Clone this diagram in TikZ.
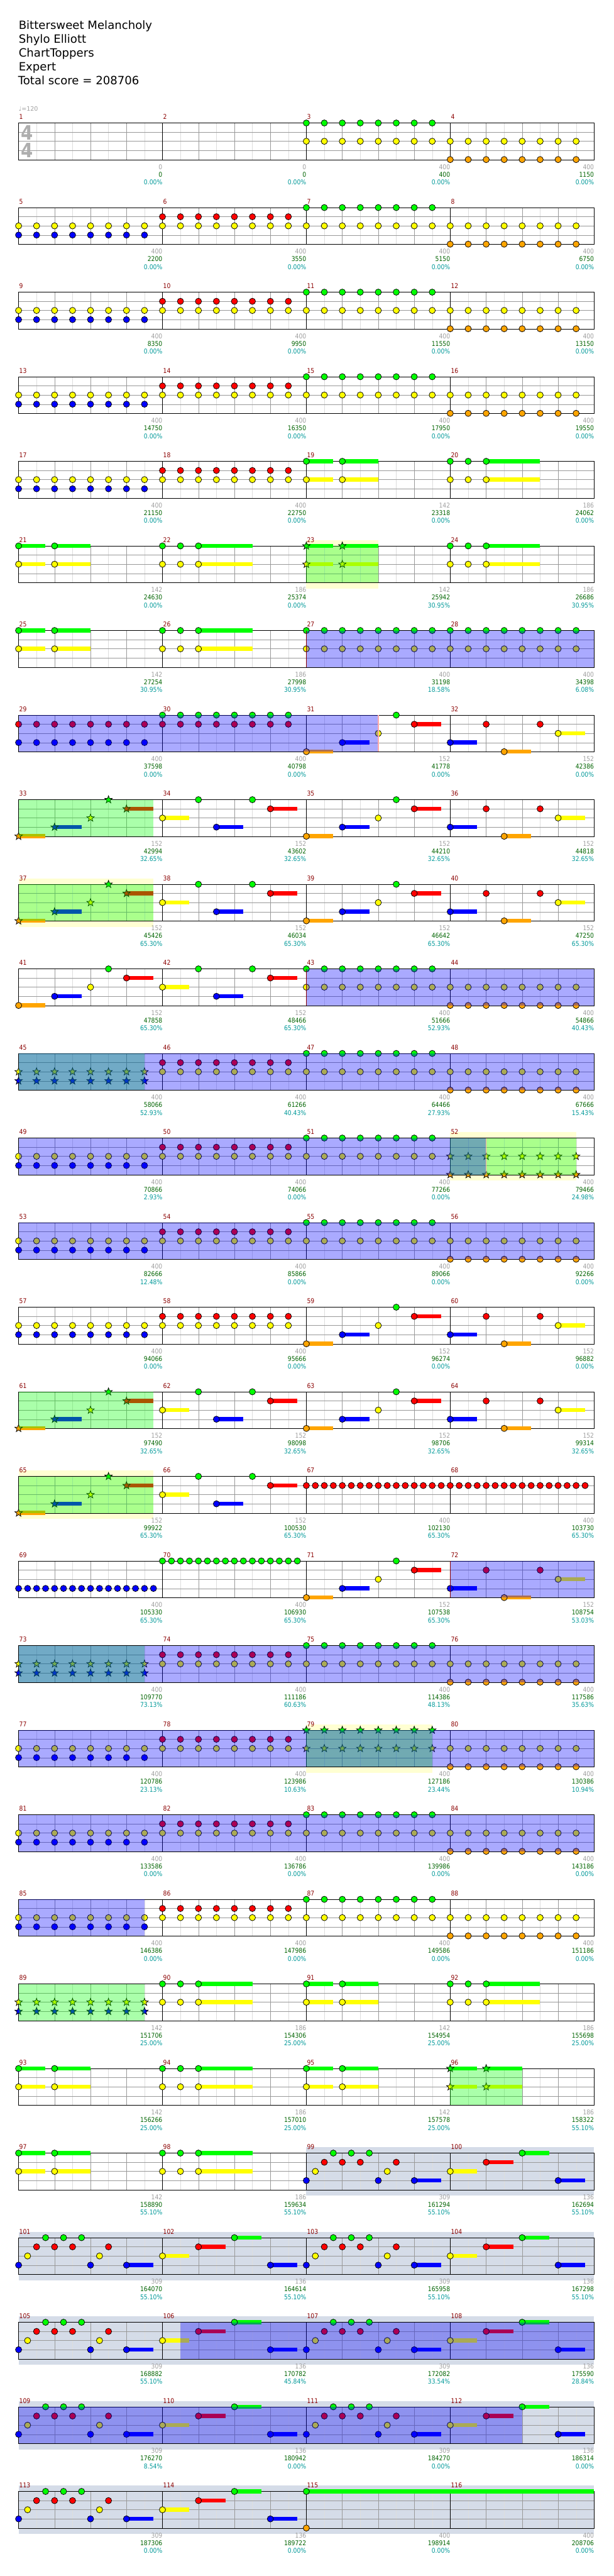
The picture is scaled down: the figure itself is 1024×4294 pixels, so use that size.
\documentclass[tikz,border=0pt]{standalone}
\usepackage{fontspec}
\setmainfont{DejaVu Sans}
\newfontfamily\numfont{DejaVu Sans}[FakeStretch=0.88]
\usepackage{tikz}
\usetikzlibrary{shapes.geometric}
\definecolor{lane0}{HTML}{00FF00}
\definecolor{lane1}{HTML}{FF0000}
\definecolor{lane2}{HTML}{FFFF00}
\definecolor{lane3}{HTML}{0000FF}
\definecolor{lane4}{HTML}{FFA500}
\definecolor{gridbeat}{HTML}{999999}
\definecolor{grideighth}{HTML}{DDDDDD}
\definecolor{barnum}{HTML}{8B0000}
\definecolor{statgray}{HTML}{A0A0A0}
\definecolor{statgreen}{HTML}{006400}
\definecolor{statcyan}{HTML}{009999}
\definecolor{spband}{HTML}{FFFFD2}
\definecolor{soloband}{HTML}{D5DCE8}
\definecolor{actend}{HTML}{FFAAAA}

% measure -> left x (\mx) and staff top y (\my)
\newcommand{\meas}[1]{%
  \pgfmathtruncatemacro\mrow{(#1-1)/4}%
  \pgfmathtruncatemacro\mcol{#1-1-4*\mrow}%
  \pgfmathsetmacro\mx{31+240*\mcol}%
  \pgfmathsetmacro\my{205+141*\mrow}}
\newcommand{\nts}[3]{\meas{#1}%
  \foreach \b in {#3} {\draw[note, fill=lane#2] (\mx+60*\b, \my+15.25*#2) circle[radius=5.2pt];}}
\newcommand{\sus}[4]{\meas{#1}%
  \fill[lane#2] (\mx+60*#3, \my+15.25*#2-3.4) rectangle (\mx+60*#3+60*#4, \my+15.25*#2+3.4);
  \draw[note, fill=lane#2] (\mx+60*#3, \my+15.25*#2) circle[radius=5.2pt];}
\newcommand{\sts}[3]{\meas{#1}%
  \foreach \b in {#3} {\pic at (\mx+60*\b, \my+15.25*#2) {starnote=lane#2};}}
\newcommand{\ssus}[4]{\meas{#1}%
  \fill[lane#2] (\mx+60*#3, \my+15.25*#2-3.4) rectangle (\mx+60*#3+60*#4, \my+15.25*#2+3.4);
  \pic at (\mx+60*#3, \my+15.25*#2) {starnote=lane#2};}
\newcommand{\ovl}[4]{\meas{#2}%
  \fill[#1, fill opacity=0.333] (\mx+60*#3, \my) rectangle (\mx+60*#4, \my+61);}
\newcommand{\band}[4]{\meas{#2}%
  \fill[#1] (\mx+60*#3, \my-10) rectangle (\mx+60*#4, \my+71);}
\newcommand{\actmark}[3]{\meas{#2}%
  \draw[#1, line width=1.4pt] (\mx+60*#3, \my) -- (\mx+60*#3, \my+61);}

% recurring measures
\newcommand{\two}[3]{\nts{#1}{#2}{0,0.5,...,3.5}\nts{#1}{#3}{0,0.5,...,3.5}}
\newcommand{\twostar}[3]{\sts{#1}{#2}{0,0.5,...,3.5}\sts{#1}{#3}{0,0.5,...,3.5}}
\newcommand{\riffA}[1]{\ssus{#1}{4}{0}{0.75}\ssus{#1}{3}{1}{0.75}\sts{#1}{2}{2}\sts{#1}{0}{2.5}\ssus{#1}{1}{3}{0.75}}
\newcommand{\riffB}[1]{\sus{#1}{2}{0}{0.75}\nts{#1}{0}{1,2.5}\sus{#1}{3}{1.5}{0.75}\sus{#1}{1}{3}{0.75}}
\newcommand{\riffC}[1]{\sus{#1}{4}{0}{0.75}\sus{#1}{3}{1}{0.75}\nts{#1}{2}{2}\nts{#1}{0}{2.5}\sus{#1}{1}{3}{0.75}}
\newcommand{\riffD}[1]{\sus{#1}{3}{0}{0.75}\nts{#1}{1}{1,2.5}\sus{#1}{4}{1.5}{0.75}\sus{#1}{2}{3}{0.75}}
\newcommand{\chordE}[1]{\sus{#1}{0}{0}{0.75}\sus{#1}{2}{0}{0.75}\sus{#1}{0}{1}{1}\sus{#1}{2}{1}{1}}
\newcommand{\chordF}[1]{\nts{#1}{0}{0,0.5}\nts{#1}{2}{0,0.5}\sus{#1}{0}{1}{1.5}\sus{#1}{2}{1}{1.5}}
\newcommand{\starE}[1]{\ssus{#1}{0}{0}{0.75}\ssus{#1}{2}{0}{0.75}\ssus{#1}{0}{1}{1}\ssus{#1}{2}{1}{1}}

\begin{document}
\begin{tikzpicture}[x=1pt, y=-1pt,
    note/.style={draw=black, line width=0.8pt},
    pics/starnote/.style={code={\draw[note, fill=#1] (90:6.6pt) -- (126:2.7pt) -- (162:6.6pt) -- (198:2.7pt) -- (234:6.6pt) -- (270:2.7pt) -- (306:6.6pt) -- (342:2.7pt) -- (18:6.6pt) -- (54:2.7pt) -- cycle;}},
    head/.style={anchor=base west, inner sep=0, font=\fontsize{19}{19}\selectfont},
    barno/.style={anchor=base west, inner sep=0, text=barnum, font=\numfont\fontsize{11}{11}\selectfont},
    stgray/.style={anchor=base east, inner sep=0, text=statgray, font=\numfont\fontsize{11}{11}\selectfont},
    stgreen/.style={anchor=base east, inner sep=0, text=statgreen, font=\numfont\fontsize{11}{11}\selectfont},
    stcyan/.style={anchor=base east, inner sep=0, text=statcyan, font=\numfont\fontsize{11}{11}\selectfont},
  ]
  \useasboundingbox[fill=white] (0,0) rectangle (1024,4294);

  \node[head] (song) at (31,49) {Bittersweet Melancholy};
  \node[head] (artist) at (31,72) {Shylo Elliott};
  \node[head] (pack) at (31,95) {ChartToppers};
  \node[head] (level) at (31,118) {Expert};
  \node[head] (total) at (30,141) {Total score = 208706};
  \node[anchor=base west, inner sep=0, text=statgray, font=\fontsize{10}{10}\selectfont] (tempo) at (31,185) {♩=120};

  % bands under the staves
  \band{spband}{23}{0}{2}
  \band{spband}{37}{0}{3.75}
  \band{spband}{52}{0}{3.5}
  \band{spband}{65}{0}{3.75}
  \band{spband}{79}{0}{3.5}
  \band{soloband}{99}{0}{8}
  \foreach \m in {101,105,109,113} {\band{soloband}{\m}{0}{16}}

  % staves
  \foreach \r in {0,...,28} {
    \pgfmathsetmacro\ry{205+141*\r}
    \foreach \i in {1,3,...,31} {\draw[grideighth] (31+30*\i, \ry) -- (31+30*\i, \ry+61);}
    \foreach \i in {2,4,6,10,12,14,18,20,22,26,28,30} {\draw[gridbeat] (31+30*\i, \ry) -- (31+30*\i, \ry+61);}
    \foreach \l in {1,2,3} {\draw[gridbeat] (31, \ry+15.25*\l) -- (991, \ry+15.25*\l);}
    \foreach \i in {8,16,24} {\draw (31+30*\i, \ry) -- (31+30*\i, \ry+61);}
    \draw (31, \ry) rectangle (991, \ry+61);
  }
  \node[anchor=base west, inner sep=0, text=statgray!85, font=\numfont\bfseries\fontsize{33}{33}\selectfont] (tsup) at (35,233) {4};
  \node[anchor=base west, inner sep=0, text=statgray!85, font=\numfont\bfseries\fontsize{33}{33}\selectfont] (tsdown) at (35,263) {4};

  % notes
  \two{3}{0}{2} \two{4}{2}{4}
  \foreach \m in {5,9,13,17} {\two{\m}{2}{3}}
  \foreach \m in {6,10,14,18} {\two{\m}{1}{2}}
  \foreach \m in {7,11,15} {\two{\m}{0}{2}}
  \foreach \m in {8,12,16} {\two{\m}{2}{4}}
  \chordE{19} \chordF{20} \chordE{21} \chordF{22} \starE{23} \chordF{24}
  \chordE{25} \chordF{26} \two{27}{0}{2} \two{28}{0}{2}
  \two{29}{1}{3} \two{30}{0}{1} \riffC{31} \riffD{32}
  \riffA{33} \riffB{34} \riffC{35} \riffD{36}
  \riffA{37} \riffB{38} \riffC{39} \riffD{40}
  \riffC{41} \riffB{42} \two{43}{0}{2} \two{44}{2}{4}
  \twostar{45}{2}{3} \two{46}{1}{2} \two{47}{0}{2} \two{48}{2}{4}
  \two{49}{2}{3} \two{50}{1}{2} \two{51}{0}{2} \twostar{52}{2}{4}
  \two{53}{2}{3} \two{54}{1}{2} \two{55}{0}{2} \two{56}{2}{4}
  \two{57}{2}{3} \two{58}{1}{2} \riffC{59} \riffD{60}
  \riffA{61} \riffB{62} \riffC{63} \riffD{64}
  \riffA{65} \riffB{66} \nts{67}{1}{0,0.25,...,3.75} \nts{68}{1}{0,0.25,...,3.75}
  \nts{69}{3}{0,0.25,...,3.75} \nts{70}{0}{0,0.25,...,3.75} \riffC{71} \riffD{72}
  \twostar{73}{2}{3} \two{74}{1}{2} \two{75}{0}{2} \two{76}{2}{4}
  \two{77}{2}{3} \two{78}{1}{2} \twostar{79}{0}{2} \two{80}{2}{4}
  \two{81}{2}{3} \two{82}{1}{2} \two{83}{0}{2} \two{84}{2}{4}
  \two{85}{2}{3} \two{86}{1}{2} \two{87}{0}{2} \two{88}{2}{4}
  \twostar{89}{2}{3} \chordF{90} \chordE{91} \chordF{92}
  \chordE{93} \chordF{94} \chordE{95} \starE{96}
  \chordE{97} \chordF{98}
  \foreach \m in {99,101,103,105,107,109,111,113} {
    \nts{\m}{3}{0,2} \nts{\m}{2}{0.25,2.25} \nts{\m}{1}{0.5,1,1.5,2.5} \nts{\m}{0}{0.75,1.25,1.75} \sus{\m}{3}{3}{0.75}}
  \foreach \m in {100,102,104,106,108,110,112,114} {
    \sus{\m}{2}{0}{0.75} \sus{\m}{1}{1}{0.75} \sus{\m}{0}{2}{0.75} \sus{\m}{3}{3}{0.75}}
  \sus{115}{0}{0}{8} \nts{115}{4}{0}

  % star power phrases and activations
  \ovl{lane0}{23}{0}{2}
  \foreach \m in {33,37,61,65} {\ovl{lane0}{\m}{0}{3.75}}
  \ovl{lane0}{45}{0}{3.5} \ovl{lane0}{52}{0}{3.5}
  \ovl{lane0}{73}{0}{3.5} \ovl{lane0}{79}{0}{3.5}
  \ovl{lane0}{89}{0}{3.5} \ovl{lane0}{96}{0}{2}
  \ovl{lane3}{27}{0}{8} \ovl{lane3}{29}{0}{10}
  \ovl{lane3}{43}{0}{8} \ovl{lane3}{45}{0}{16}
  \ovl{lane3}{49}{0}{13} \ovl{lane3}{53}{0}{16}
  \ovl{lane3}{72}{0}{4} \foreach \m in {73,77,81} {\ovl{lane3}{\m}{0}{16}}
  \ovl{lane3}{85}{0}{3.5}
  \ovl{lane3}{106}{0.5}{12} \ovl{lane3}{109}{0}{14}
  \actmark{barnum}{27}{0} \actmark{actend}{31}{2}
  \actmark{barnum}{43}{0} \actmark{actend}{52}{1}
  \actmark{barnum}{72}{0}

  % bar numbers and running score
  \foreach \m/\g/\s/\p in {1/0/0/0.00, 2/0/0/0.00, 3/400/400/0.00, 4/400/1150/0.00,
      5/400/2200/0.00, 6/400/3550/0.00, 7/400/5150/0.00, 8/400/6750/0.00,
      9/400/8350/0.00, 10/400/9950/0.00, 11/400/11550/0.00, 12/400/13150/0.00,
      13/400/14750/0.00, 14/400/16350/0.00, 15/400/17950/0.00, 16/400/19550/0.00,
      17/400/21150/0.00, 18/400/22750/0.00, 19/142/23318/0.00, 20/186/24062/0.00,
      21/142/24630/0.00, 22/186/25374/0.00, 23/142/25942/30.95, 24/186/26686/30.95,
      25/142/27254/30.95, 26/186/27998/30.95, 27/400/31198/18.58, 28/400/34398/6.08,
      29/400/37598/0.00, 30/400/40798/0.00, 31/152/41778/0.00, 32/152/42386/0.00,
      33/152/42994/32.65, 34/152/43602/32.65, 35/152/44210/32.65, 36/152/44818/32.65,
      37/152/45426/65.30, 38/152/46034/65.30, 39/152/46642/65.30, 40/152/47250/65.30,
      41/152/47858/65.30, 42/152/48466/65.30, 43/400/51666/52.93, 44/400/54866/40.43,
      45/400/58066/52.93, 46/400/61266/40.43, 47/400/64466/27.93, 48/400/67666/15.43,
      49/400/70866/2.93, 50/400/74066/0.00, 51/400/77266/0.00, 52/400/79466/24.98,
      53/400/82666/12.48, 54/400/85866/0.00, 55/400/89066/0.00, 56/400/92266/0.00,
      57/400/94066/0.00, 58/400/95666/0.00, 59/152/96274/0.00, 60/152/96882/0.00,
      61/152/97490/32.65, 62/152/98098/32.65, 63/152/98706/32.65, 64/152/99314/32.65,
      65/152/99922/65.30, 66/152/100530/65.30, 67/400/102130/65.30, 68/400/103730/65.30,
      69/400/105330/65.30, 70/400/106930/65.30, 71/152/107538/65.30, 72/152/108754/53.03,
      73/400/109770/73.13, 74/400/111186/60.63, 75/400/114386/48.13, 76/400/117586/35.63,
      77/400/120786/23.13, 78/400/123986/10.63, 79/400/127186/23.44, 80/400/130386/10.94,
      81/400/133586/0.00, 82/400/136786/0.00, 83/400/139986/0.00, 84/400/143186/0.00,
      85/400/146386/0.00, 86/400/147986/0.00, 87/400/149586/0.00, 88/400/151186/0.00,
      89/142/151706/25.00, 90/186/154306/25.00, 91/142/154954/25.00, 92/186/155698/25.00,
      93/142/156266/25.00, 94/186/157010/25.00, 95/142/157578/25.00, 96/186/158322/55.10,
      97/142/158890/55.10, 98/186/159634/55.10, 99/309/161294/55.10, 100/136/162694/55.10,
      101/309/164070/55.10, 102/136/164614/55.10, 103/309/165958/55.10, 104/136/167298/55.10,
      105/309/168882/55.10, 106/136/170782/45.84, 107/309/172082/33.54, 108/136/175590/28.84,
      109/309/176270/8.54, 110/136/180942/0.00, 111/309/184270/0.00, 112/136/186314/0.00,
      113/309/187306/0.00, 114/136/189722/0.00, 115/400/198914/0.00, 116/400/208706/0.00} {
    \meas{\m}
    \node[barno] (bar\m) at (\mx+1, \my-6) {\m};
    \node[stgray] (base\m) at (\mx+240, \my+77) {\g};
    \node[stgreen] (score\m) at (\mx+240, \my+90) {\s};
    \node[stcyan] (pct\m) at (\mx+240, \my+103) {\p\%};
  }
\end{tikzpicture}
\end{document}
